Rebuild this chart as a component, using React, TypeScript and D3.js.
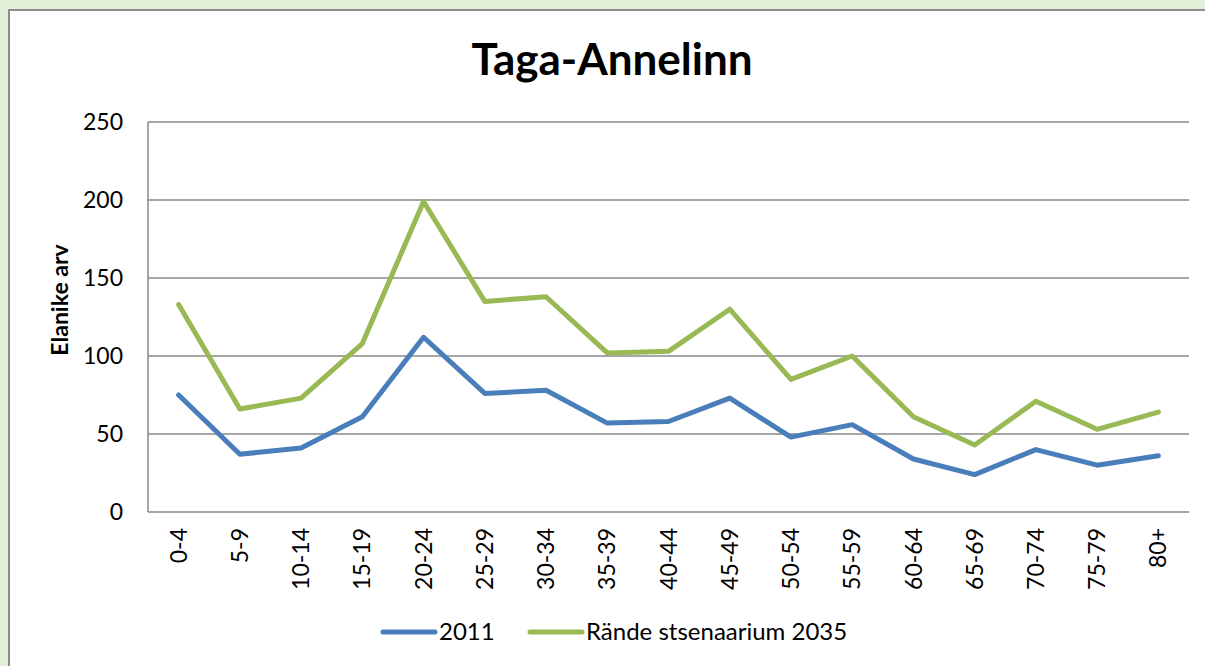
import React, { useRef, useEffect } from 'react';
import * as d3 from 'd3';

const categories = ["0-4", "5-9", "10-14", "15-19", "20-24", "25-29", "30-34", "35-39", "40-44", "45-49", "50-54", "55-59", "60-64", "65-69", "70-74", "75-79", "80+"];
const values2011 = [75, 37, 41, 61, 112, 76, 78, 57, 58, 73, 48, 56, 34, 24, 40, 30, 36];
const values2035 = [133, 66, 73, 108, 199, 135, 138, 102, 103, 130, 85, 100, 61, 43, 71, 53, 64];
const yTicks = [0, 50, 100, 150, 200, 250];
const seriesNames = ["2011", "Rände stsenaarium 2035"];

const App: React.FC = () => {
  const svgRef = useRef<SVGSVGElement | null>(null);

  useEffect(() => {
    const svg = d3.select(svgRef.current);
    svg.selectAll("*").remove();

    const width = 1205;
    const height = 666;
    const font = "Lato, 'Open Sans', sans-serif";
    const margin = { top: 122, right: 16, bottom: 154, left: 148 };

    // page background + chart panel
    svg.append("rect").attr("width", width).attr("height", height).attr("fill", "#e3efd9");
    svg.append("rect")
      .attr("x", 9).attr("y", 10)
      .attr("width", width).attr("height", height)
      .attr("fill", "#fff").attr("stroke", "#8c8c8c").attr("stroke-width", 2);

    const x = d3.scaleBand()
      .domain(categories)
      .range([margin.left, width - margin.right]);

    const y = d3.scaleLinear()
      .domain([0, 250])
      .range([height - margin.bottom, margin.top]);

    // gridlines
    svg.append("g")
      .selectAll("line")
      .data(yTicks)
      .join("line")
      .attr("x1", margin.left)
      .attr("x2", width - margin.right)
      .attr("y1", d => y(d))
      .attr("y2", d => y(d))
      .attr("stroke", "#888")
      .attr("stroke-width", 1.5);

    // y axis line
    svg.append("line")
      .attr("x1", margin.left).attr("x2", margin.left)
      .attr("y1", y(250)).attr("y2", y(0))
      .attr("stroke", "#888").attr("stroke-width", 1.5);

    // y tick labels
    svg.append("g")
      .selectAll("text")
      .data(yTicks)
      .join("text")
      .attr("x", margin.left - 25)
      .attr("y", d => y(d))
      .attr("dy", "0.35em")
      .attr("text-anchor", "end")
      .attr("font-family", font)
      .attr("font-size", 23)
      .text(d => d);

    // x tick labels
    svg.append("g")
      .selectAll("text")
      .data(categories)
      .join("text")
      .attr("transform", d => `translate(${x(d)! + x.bandwidth() / 2},${y(0) + 16}) rotate(-90)`)
      .attr("dy", "0.35em")
      .attr("text-anchor", "end")
      .attr("font-family", font)
      .attr("font-size", 23)
      .text(d => d);

    // title
    svg.append("text")
      .attr("x", 612)
      .attr("y", 75)
      .attr("text-anchor", "middle")
      .attr("font-family", font)
      .attr("font-weight", "bold")
      .attr("font-size", 44)
      .text("Taga-Annelinn");

    // y axis title
    svg.append("text")
      .attr("transform", `translate(68,300) rotate(-90)`)
      .attr("text-anchor", "middle")
      .attr("font-family", font)
      .attr("font-weight", "bold")
      .attr("font-size", 23)
      .text("Elanike arv");

    const line = d3.line<number>()
      .x((_, i) => x(categories[i])! + x.bandwidth() / 2)
      .y(d => y(d));

    const colors = ["#4a7ebb", "#98b954"];
    [values2011, values2035].forEach((vals, i) => {
      svg.append("path")
        .datum(vals)
        .attr("d", line)
        .attr("fill", "none")
        .attr("stroke", colors[i])
        .attr("stroke-width", 5)
        .attr("stroke-linejoin", "round")
        .attr("stroke-linecap", "round");
    });

    // legend
    const legendX = [383, 530];
    seriesNames.forEach((name, i) => {
      const g = svg.append("g").attr("transform", `translate(${legendX[i]},632)`);
      g.append("line")
        .attr("x1", 0).attr("x2", 52)
        .attr("stroke", colors[i])
        .attr("stroke-width", 5)
        .attr("stroke-linecap", "round");
      g.append("text")
        .attr("x", 56)
        .attr("dy", "0.35em")
        .attr("font-family", font)
        .attr("font-size", 24)
        .text(name);
    });
  }, []);

  return (
    <svg ref={svgRef} width={1205} height={666} style={{ position: "fixed", left: 0, top: 0 }}></svg>
  );
};

export default App;
